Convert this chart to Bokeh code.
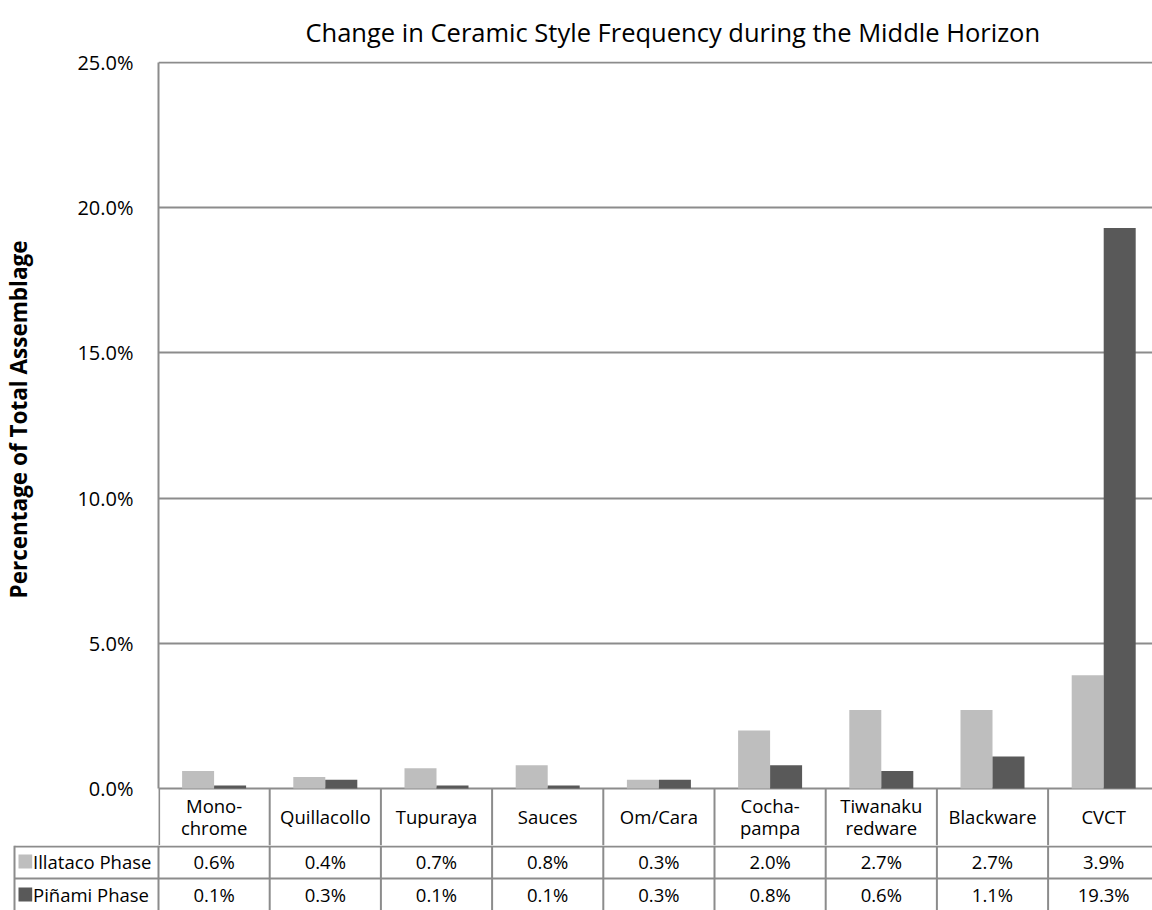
import math
from bokeh.plotting import figure
from bokeh.models import Range1d, FixedTicker, PrintfTickFormatter, ColumnDataSource
from bokeh.layouts import column, row
from bokeh.transform import dodge
from bokeh.embed import file_html
from bokeh.resources import INLINE
from bokeh.core.properties import value

# ---------------- data ----------------
title_text = "Change in Ceramic Style Frequency during the Middle Horizon"
y_label = "Percentage of Total Assemblage"
categories = ["Mono-\nchrome", "Quillacollo", "Tupuraya", "Sauces", "Om/Cara",
              "Cocha-\npampa", "Tiwanaku\nredware", "Blackware", "CVCT"]
series_names = ["Illataco Phase", "Piñami Phase"]
illataco = [0.6, 0.4, 0.7, 0.8, 0.3, 2.0, 2.7, 2.7, 3.9]
pinami = [0.1, 0.3, 0.1, 0.1, 0.3, 0.8, 0.6, 1.1, 19.3]
y_ticks = [0, 5, 10, 15, 20, 25]

# ---------------- style / layout ----------------
LIGHT = "#BEBEBE"
DARK = "#595959"
LINEC = "#8C8C8C"
FONT = "Open Sans"
W = 1152
LAB_W = 40            # strip holding the vertical axis title
LEFT = 158            # page x of the plot frame's left edge
CAT_PX = 111.2        # px per category
PX_PER = 29.04        # px per percentage point
X_END = (W - LEFT) / CAT_PX
X_TAB_START = -LEFT / CAT_PX
BW = 32 / CAT_PX
HDR_PX = 57           # header row (category names) height in px
Y_MIN = -HDR_PX / PX_PER
Y_MAX = 25 + 1 / PX_PER
TOP_B = 61
FRAME_H = round((Y_MAX - Y_MIN) * PX_PER)
TOP_H = TOP_B + FRAME_H
TAB_H = 910 - TOP_H

# ---------------- vertical axis title strip ----------------
lab = figure(width=LAB_W, height=TOP_H, x_range=Range1d(0, LAB_W), y_range=Range1d(TOP_H, 0),
             output_backend="svg", toolbar_location=None, x_axis_location=None,
             y_axis_location=None, frame_align=False, min_border_left=0, min_border_right=0,
             min_border_top=0, min_border_bottom=0)
lab.outline_line_color = None
lab.grid.grid_line_color = None
lab.text(x=[18], y=[419], text=[y_label], angle=math.pi / 2, text_align="center",
         text_baseline="middle", text_font=value(FONT), text_font_style="bold",
         text_font_size="22.5px", text_color="#000000")

# ---------------- chart (with category header row) ----------------
p = figure(width=W - LAB_W, height=TOP_H, x_range=Range1d(0, X_END),
           y_range=Range1d(Y_MIN, Y_MAX), output_backend="svg", toolbar_location=None,
           x_axis_location=None, min_border_left=LEFT - LAB_W, min_border_right=0,
           min_border_top=TOP_B, min_border_bottom=0, frame_align=False, title=title_text)
p.title.text_font = FONT
p.title.text_font_style = "normal"
p.title.text_font_size = "25.5px"
p.title.text_color = "#000000"
p.title.align = "left"
p.title.offset = 147
p.title.vertical_align = "middle"
p.title.standoff = 23
p.outline_line_color = None
p.xgrid.grid_line_color = None
p.ygrid.ticker = FixedTicker(ticks=y_ticks)
p.ygrid.grid_line_color = LINEC
p.ygrid.grid_line_width = 2
p.yaxis.bounds = (0, 25)
p.yaxis.ticker = FixedTicker(ticks=y_ticks)
p.yaxis.formatter = PrintfTickFormatter(format="%.1f%%")
p.yaxis.axis_line_color = LINEC
p.yaxis.axis_line_width = 2
p.yaxis.major_tick_line_color = None
p.yaxis.minor_tick_line_color = None
p.yaxis.major_tick_out = 0
p.yaxis.major_tick_in = 0
p.yaxis.major_label_standoff = 25
p.yaxis.major_label_text_font = FONT
p.yaxis.major_label_text_font_size = "20px"
p.yaxis.major_label_text_color = "#000000"

n = len(categories)
src = ColumnDataSource(dict(x=[i + 0.5 for i in range(n)], ill=illataco, pin=pinami))
p.vbar(x=dodge("x", -BW / 2, range=p.x_range), width=BW, top="ill", bottom=0,
       source=src, fill_color=LIGHT, line_color=None)
p.vbar(x=dodge("x", BW / 2, range=p.x_range), width=BW, top="pin", bottom=0,
       source=src, fill_color=DARK, line_color=None)

# header row separators (below the baseline)
sep_x = [0.6 / CAT_PX] + list(range(1, n + 1))
p.segment(x0=sep_x, y0=[0] * len(sep_x), x1=sep_x, y1=[Y_MIN] * len(sep_x),
          line_color=LINEC, line_width=2)

# header cells (category names)
hx, hy, ht = [], [], []
for i, c in enumerate(categories):
    lines = c.split("\n")
    if len(lines) == 1:
        hx.append(i + 0.5); hy.append(-28 / PX_PER); ht.append(lines[0])
    else:
        for j, ln in enumerate(lines):
            hx.append(i + 0.5); hy.append(-(17 + 22 * j) / PX_PER); ht.append(ln)
p.text(x=hx, y=hy, text=ht, text_align="center", text_baseline="middle",
       text_font=value(FONT), text_font_size="18.5px", text_color="#000000")

# ---------------- data table rows ----------------
t = figure(width=W, height=TAB_H, x_range=Range1d(X_TAB_START, X_END),
           y_range=Range1d(TAB_H, 0), output_backend="svg", toolbar_location=None,
           x_axis_location=None, y_axis_location=None, frame_align=False,
           min_border_left=0, min_border_right=0, min_border_top=0, min_border_bottom=0)
t.outline_line_color = None
t.grid.grid_line_color = None

x_box = (14 - LEFT) / CAT_PX
R1 = 33
vx = [x_box] + list(range(n + 1))
t.segment(x0=vx, y0=[0] * len(vx), x1=vx, y1=[TAB_H + 10] * len(vx),
          line_color=LINEC, line_width=2)
t.segment(x0=[x_box, x_box], y0=[1, R1], x1=[n + 1, n + 1], y1=[1, R1],
          line_color=LINEC, line_width=2)

row_y = [16, 49]
for vals, ry in zip([illataco, pinami], row_y):
    t.text(x=[i + 0.5 for i in range(n)], y=[ry] * n, text=["%.1f%%" % v for v in vals],
           text_align="center", text_baseline="middle", text_font=value(FONT),
           text_font_size="18.5px", text_color="#000000")

key_l = (18 - LEFT) / CAT_PX
key_r = (31.7 - LEFT) / CAT_PX
t.quad(left=[key_l, key_l], right=[key_r, key_r], top=[ry - 7 for ry in row_y],
       bottom=[ry + 7 for ry in row_y], fill_color=[LIGHT, DARK], line_color=None)
t.text(x=[(32.5 - LEFT) / CAT_PX] * 2, y=row_y, text=series_names, text_align="left",
       text_baseline="middle", text_font=value(FONT), text_font_size="18.5px",
       text_color="#000000")

layout = column(row(lab, p, spacing=0), t, spacing=0)
open("out.html", "w").write(file_html(layout, INLINE))
